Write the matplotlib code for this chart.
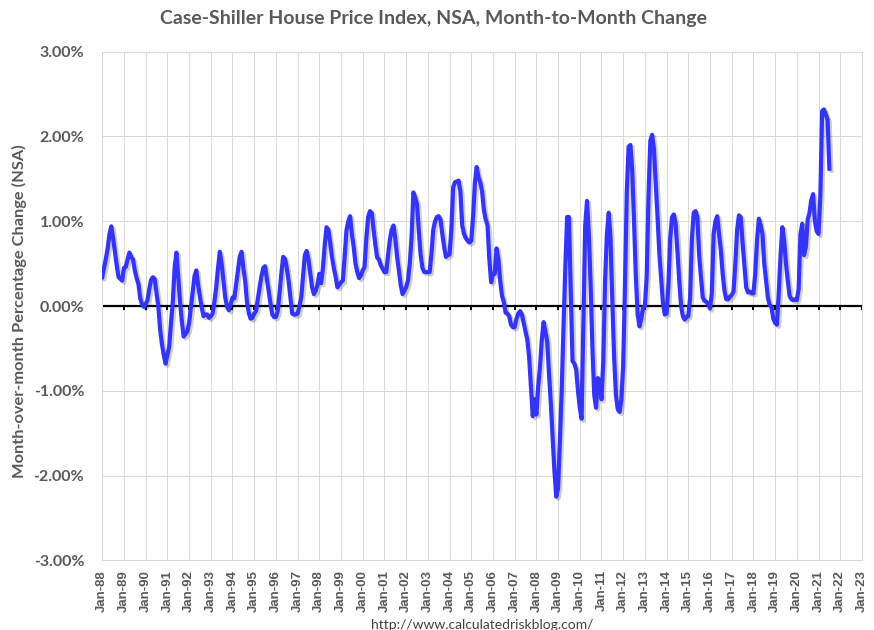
import matplotlib
matplotlib.use("Agg")
import matplotlib.pyplot as plt
import matplotlib.patheffects as pe
import numpy as np

# monthly change in % (NSA), Jan-88 .. Jul-21
chg_1988 = [0.34, 0.45, 0.56, 0.68, 0.85, 0.94, 0.80, 0.64, 0.48, 0.34, 0.32, 0.30]
chg_1989 = [0.45, 0.46, 0.55, 0.63, 0.58, 0.55, 0.42, 0.33, 0.26, 0.09, 0.02, -0.01]
chg_1990 = [0.02, 0.07, 0.20, 0.31, 0.34, 0.32, 0.15, 0.00, -0.28, -0.45, -0.58, -0.68]
chg_1991 = [-0.58, -0.48, -0.20, 0.05, 0.45, 0.63, 0.35, 0.05, -0.18, -0.36, -0.33, -0.30]
chg_1992 = [-0.20, -0.02, 0.15, 0.35, 0.42, 0.25, 0.11, -0.02, -0.12, -0.10, -0.10, -0.14]
chg_1993 = [-0.12, -0.09, 0.05, 0.22, 0.45, 0.64, 0.50, 0.30, 0.10, -0.01, -0.05, 0.02]
chg_1994 = [0.10, 0.09, 0.25, 0.42, 0.58, 0.64, 0.45, 0.30, 0.05, -0.08, -0.15, -0.14]
chg_1995 = [-0.09, -0.06, 0.08, 0.22, 0.35, 0.45, 0.47, 0.32, 0.18, 0.03, -0.10, -0.13]
chg_1996 = [-0.13, -0.06, 0.15, 0.38, 0.58, 0.56, 0.45, 0.30, 0.10, -0.09, -0.10, -0.10]
chg_1997 = [-0.09, 0.00, 0.10, 0.35, 0.60, 0.65, 0.55, 0.38, 0.22, 0.14, 0.18, 0.25]
chg_1998 = [0.38, 0.27, 0.45, 0.72, 0.93, 0.90, 0.75, 0.58, 0.45, 0.35, 0.22, 0.25]
chg_1999 = [0.28, 0.30, 0.58, 0.89, 1.00, 1.06, 0.85, 0.70, 0.50, 0.40, 0.33, 0.36]
chg_2000 = [0.42, 0.46, 0.80, 1.05, 1.12, 1.10, 0.90, 0.72, 0.57, 0.55, 0.48, 0.44]
chg_2001 = [0.40, 0.40, 0.60, 0.78, 0.90, 0.95, 0.80, 0.58, 0.42, 0.25, 0.14, 0.18]
chg_2002 = [0.22, 0.30, 0.50, 0.81, 1.34, 1.28, 1.20, 0.89, 0.61, 0.45, 0.40, 0.40]
chg_2003 = [0.40, 0.40, 0.62, 0.90, 1.00, 1.05, 1.06, 1.02, 0.85, 0.70, 0.58, 0.60]
chg_2004 = [0.61, 0.90, 1.40, 1.46, 1.47, 1.48, 1.35, 0.95, 0.85, 0.80, 0.77, 0.75]
chg_2005 = [0.77, 1.05, 1.45, 1.64, 1.52, 1.46, 1.35, 1.13, 1.02, 0.95, 0.55, 0.28]
chg_2006 = [0.38, 0.38, 0.68, 0.55, 0.30, 0.12, 0.05, -0.08, -0.09, -0.12, -0.22, -0.25]
chg_2007 = [-0.25, -0.15, -0.09, -0.06, -0.10, -0.20, -0.30, -0.40, -0.60, -0.95, -1.30, -1.10]
chg_2008 = [-1.28, -0.95, -0.72, -0.40, -0.19, -0.30, -0.42, -0.80, -1.15, -1.55, -1.95, -2.25]
chg_2009 = [-2.15, -1.60, -1.00, -0.25, 0.45, 1.05, 1.05, 0.20, -0.65, -0.68, -0.75, -1.00]
chg_2010 = [-1.20, -1.33, -0.20, 0.95, 1.24, 0.85, 0.25, -0.50, -1.05, -1.20, -0.85, -0.88]
chg_2011 = [-1.10, -0.65, 0.30, 0.85, 1.10, 0.80, 0.05, -0.60, -1.05, -1.22, -1.25, -1.10]
chg_2012 = [-0.70, 0.25, 1.35, 1.88, 1.90, 1.60, 1.00, 0.35, -0.10, -0.24, -0.15, -0.02]
chg_2013 = [0.00, 0.35, 1.30, 1.95, 2.02, 1.85, 1.45, 1.05, 0.62, 0.32, 0.03, -0.10]
chg_2014 = [-0.09, 0.25, 0.80, 1.05, 1.08, 0.97, 0.65, 0.30, 0.00, -0.12, -0.16, -0.13]
chg_2015 = [-0.12, 0.10, 0.80, 1.10, 1.12, 1.05, 0.60, 0.34, 0.10, 0.06, 0.05, 0.02]
chg_2016 = [-0.03, 0.15, 0.85, 1.00, 1.06, 0.85, 0.66, 0.38, 0.18, 0.08, 0.08, 0.11]
chg_2017 = [0.13, 0.17, 0.50, 0.90, 1.07, 1.05, 0.75, 0.48, 0.22, 0.16, 0.17, 0.15]
chg_2018 = [0.15, 0.38, 0.78, 1.03, 0.95, 0.85, 0.50, 0.30, 0.10, 0.01, -0.01, -0.15]
chg_2019 = [-0.20, -0.22, 0.15, 0.60, 0.93, 0.77, 0.50, 0.30, 0.12, 0.08, 0.07, 0.08]
chg_2020 = [0.07, 0.20, 0.85, 0.97, 0.60, 0.70, 1.02, 1.10, 1.25, 1.32, 1.00, 0.88]
chg_2021 = [0.85, 1.30, 2.30, 2.32, 2.26, 2.20, 1.62]

years = list(range(1988, 2024))
year_labels = ["Jan-%02d" % (y % 100) for y in years]
y_ticks = [-3, -2, -1, 0, 1, 2, 3]
y_labels = ["%.2f%%" % v for v in y_ticks]

values = (chg_1988 + chg_1989 + chg_1990 + chg_1991 + chg_1992 + chg_1993 + chg_1994
          + chg_1995 + chg_1996 + chg_1997 + chg_1998 + chg_1999 + chg_2000 + chg_2001
          + chg_2002 + chg_2003 + chg_2004 + chg_2005 + chg_2006 + chg_2007 + chg_2008
          + chg_2009 + chg_2010 + chg_2011 + chg_2012 + chg_2013 + chg_2014 + chg_2015
          + chg_2016 + chg_2017 + chg_2018 + chg_2019 + chg_2020 + chg_2021)
months = 1988 + np.arange(len(values)) / 12.0

grey = "#595959"
grid_c = "#D9D9D9"

fig = plt.figure(figsize=(8.74, 6.3), dpi=100)
ax = fig.add_axes([0.117, 0.1106, 0.8692, 0.8073])

ax.set_xlim(1988, 2023)
ax.set_ylim(-3, 3)
ax.set_xticks(years)
ax.set_xticklabels(year_labels, rotation=90, fontsize=9.5, fontweight="bold",
                   family="Liberation Sans", color=grey)
ax.set_yticks(y_ticks)
ax.set_yticklabels(y_labels, fontsize=11.5, fontweight="bold", family="Lato", color=grey)
ax.tick_params(axis="x", length=0, pad=7)
ax.tick_params(axis="y", length=0, pad=13)
ax.grid(True, color=grid_c, lw=0.75, zorder=0)
ax.set_axisbelow(True)
for s in ax.spines.values():
    s.set_color(grid_c)
    s.set_linewidth(0.75)

# zero axis with little tick marks below
ax.axhline(0, color="black", lw=1.6, zorder=2)
ax.vlines(years, -0.05, 0, color="black", lw=1.4, zorder=2)

ax.plot(months, values, color="#3434F4", lw=3.0, zorder=3, solid_joinstyle="round",
        path_effects=[pe.SimpleLineShadow(offset=(1.5, -1.5), shadow_color="k", alpha=0.2),
                      pe.Normal()])

fig.text(0.496, 0.971, "Case-Shiller House Price Index, NSA, Month-to-Month Change",
         ha="center", va="center", fontsize=14, fontweight="bold", family="Lato", color=grey)
fig.text(0.022, 0.506, "Month-over-month Percentage Change (NSA)", rotation=90,
         ha="center", va="center", fontsize=11.8, fontweight="bold", family="Lato", color=grey)
fig.text(0.552, 1.0 / 630, "http://www.calculatedriskblog.com/", ha="center", va="baseline",
         fontsize=10, family="Lato", color="#404040")

fig.savefig("out.png", dpi=100)
